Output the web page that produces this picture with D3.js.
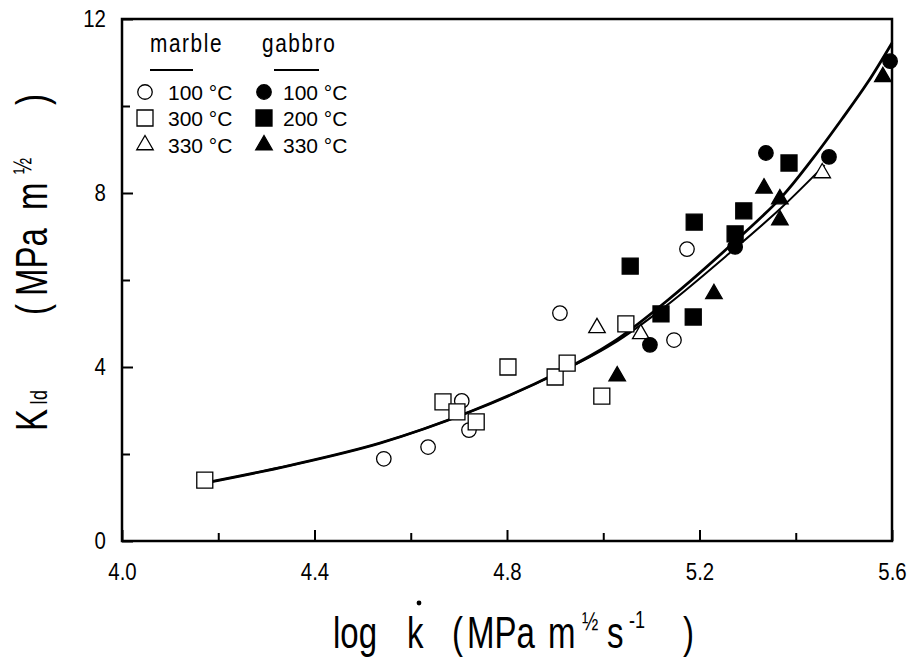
<!DOCTYPE html>
<html>
<head>
    <meta charset="utf-8">
    <title>KId vs log k</title>
    <style>
        body { margin: 0; background: white; }
        svg { background-color: white; }
        text { font-family: "Liberation Sans", Arial, sans-serif; fill: black; }
    </style>
</head>
<body>
    <script src="https://cdnjs.cloudflare.com/ajax/libs/d3/7.8.5/d3.min.js"></script>
    <script>

// values: [log k, KId]
var marble100 = [[4.544, 1.89], [4.636, 2.16], [4.706, 3.22], [4.721, 2.55], [4.910, 5.24], [5.147, 4.62], [5.174, 6.71]];
var marble300 = [[4.172, 1.40], [4.667, 3.20], [4.696, 2.97], [4.736, 2.74], [4.802, 4.00], [4.900, 3.77], [4.925, 4.09], [4.997, 3.33], [5.047, 4.99]];
var marble330 = [[4.987, 4.90], [5.078, 4.76], [5.455, 8.46]];
var gabbro100 = [[5.097, 4.51], [5.274, 6.76], [5.338, 8.92], [5.469, 8.83], [5.596, 11.03]];
var gabbro200 = [[5.056, 6.32], [5.120, 5.22], [5.189, 7.33], [5.187, 5.15], [5.274, 7.06], [5.292, 7.59], [5.386, 8.69]];
var gabbro330 = [[5.029, 3.79], [5.230, 5.68], [5.334, 8.11], [5.367, 7.86], [5.367, 7.38], [5.581, 10.67]];

// fitted curves, traced
var fitGabbro = [[4.17, 1.33], [4.35, 1.74], [4.536, 2.25], [4.723, 2.97], [4.91, 3.89], [5.02, 4.57], [5.13, 5.50], [5.27, 6.85], [5.37, 7.90], [5.436, 8.80], [5.496, 9.70], [5.55, 10.55], [5.60, 11.45]];
var fitMarble = [[4.17, 1.33], [4.35, 1.74], [4.536, 2.25], [4.723, 2.97], [4.91, 3.88], [5.02, 4.53], [5.13, 5.40], [5.27, 6.69], [5.37, 7.66], [5.46, 8.64]];

var xMajor = [4.0, 4.4, 4.8, 5.2, 5.6];
var xMinor = [4.2, 4.6, 5.0, 5.4];
var yMajor = [0, 4, 8, 12];
var yMinor = [2, 6, 10];

var legendGroups = ["marble", "gabbro"];
var marbleLabels = ["100 °C", "300 °C", "330 °C"];
var gabbroLabels = ["100 °C", "200 °C", "330 °C"];

var W = 909, H = 659;
var svg = d3.select("body").append("svg")
    .attr("width", W)
    .attr("height", H);

var x = d3.scaleLinear().domain([4.0, 5.6]).range([122, 892]);
var y = d3.scaleLinear().domain([0, 12]).range([541, 19]);

// narrow-looking text: squeeze horizontally
function label(parent, px, py, str, size, sx, rot) {
    var g = parent.append("g")
        .attr("transform", "translate(" + px + "," + py + ")" + (rot ? " rotate(" + rot + ")" : "") + " scale(" + sx + ",1)");
    return g.append("text").attr("font-size", size).text(str);
}

// frame
svg.append("rect")
    .attr("x", x(4.0)).attr("y", y(12))
    .attr("width", x(5.6) - x(4.0)).attr("height", y(0) - y(12))
    .attr("fill", "none").attr("stroke", "black").attr("stroke-width", 2.5);

// axes, ticks pointing inward
svg.append("g").attr("transform", "translate(0," + y(0) + ")")
    .call(d3.axisBottom(x).tickValues(xMajor).tickFormat(d3.format(".1f")).tickSize(-11).tickPadding(22));
svg.append("g").attr("transform", "translate(0," + y(0) + ")")
    .call(d3.axisBottom(x).tickValues(xMinor).tickFormat("").tickSize(-8));
svg.append("g").attr("transform", "translate(" + x(4.0) + ",0)")
    .call(d3.axisLeft(y).tickValues(yMajor).tickFormat(d3.format("d")).tickSize(-11).tickPadding(19));
svg.append("g").attr("transform", "translate(" + x(4.0) + ",0)")
    .call(d3.axisLeft(y).tickValues(yMinor).tickFormat("").tickSize(-8));

svg.selectAll(".domain").remove();
svg.selectAll(".tick line").attr("stroke", "black").attr("stroke-width", 2);
svg.selectAll(".tick text")
    .attr("font-size", 24).attr("fill", "black")
    .attr("font-family", "Liberation Sans, Arial, sans-serif")
    .attr("transform", "scale(0.85,1)");

// curves
var line = d3.line()
    .x(function (d) { return x(d[0]); })
    .y(function (d) { return y(d[1]); })
    .curve(d3.curveCatmullRom);

svg.append("path").datum(fitMarble)
    .attr("d", line).attr("fill", "none").attr("stroke", "black").attr("stroke-width", 2);
svg.append("path").datum(fitGabbro)
    .attr("d", line).attr("fill", "none").attr("stroke", "black").attr("stroke-width", 2.8);

// markers
var series = [
    { data: marble100, type: d3.symbolCircle, size: 165, filled: false },
    { data: marble300, type: d3.symbolSquare, size: 256, filled: false },
    { data: marble330, type: d3.symbolTriangle, size: 118, filled: false },
    { data: gabbro100, type: d3.symbolCircle, size: 165, filled: true },
    { data: gabbro200, type: d3.symbolSquare, size: 256, filled: true },
    { data: gabbro330, type: d3.symbolTriangle, size: 118, filled: true }
];

series.forEach(function (s) {
    svg.append("g").selectAll("path")
        .data(s.data)
        .enter().append("path")
        .attr("transform", function (d) { return "translate(" + x(d[0]) + "," + y(d[1]) + ")"; })
        .attr("d", d3.symbol().type(s.type).size(s.size))
        .attr("fill", s.filled ? "black" : "white")
        .attr("stroke", "black")
        .attr("stroke-width", 1.3);
});

// legend
var lg = svg.append("g");
var colX = [150, 262];
var lineX = [[150, 193], [274, 319]];
legendGroups.forEach(function (g, i) {
    label(lg, colX[i], 52, g, 26, 0.8).attr("letter-spacing", 2);
    lg.append("line")
        .attr("x1", lineX[i][0]).attr("x2", lineX[i][1])
        .attr("y1", 70).attr("y2", 70)
        .attr("stroke", "black").attr("stroke-width", 2);
});
var rowY = [92, 118, 145];
var markX = [145, 264];
var textX = [168, 283];
[marbleLabels, gabbroLabels].forEach(function (labels, c) {
    labels.forEach(function (lab, r) {
        var s = series[c * 3 + r];
        lg.append("path")
            .attr("transform", "translate(" + markX[c] + "," + rowY[r] + ")")
            .attr("d", d3.symbol().type(s.type).size(s.size))
            .attr("fill", s.filled ? "black" : "white")
            .attr("stroke", "black").attr("stroke-width", 1.3);
        lg.append("text").attr("x", textX[c]).attr("y", rowY[r] + 8)
            .attr("font-size", 21).text(lab);
    });
});

// x axis title
var tg = svg.append("g");
var TS = 44, SX = 0.75;
label(tg, 333, 648, "log", TS, SX);
label(tg, 407, 648, "k", TS, SX);
// rate dot over the k
tg.append("circle").attr("cx", 419).attr("cy", 603).attr("r", 2.4).attr("fill", "black");
label(tg, 452, 648, "(", TS, SX);
label(tg, 467, 648, "MPa", TS, SX);
label(tg, 548, 648, "m", TS, SX);
label(tg, 582, 630, "½", 26, SX);
label(tg, 607, 648, "s", TS, SX);
label(tg, 629, 628, "-1", 24, SX);
label(tg, 683, 648, ")", TS, SX);

// y axis title (rotated)
label(tg, 47, 431, "K", TS, SX, -90);
label(tg, 47, 405, "Id", 24, SX, -90);
label(tg, 47, 315, "(", TS, SX, -90);
label(tg, 47, 296, "MPa", TS, SX, -90);
label(tg, 47, 210, "m", TS, SX, -90);
label(tg, 31, 174, "½", 26, SX, -90);
label(tg, 47, 105, ")", TS, SX, -90);

    </script>
</body>
</html>
